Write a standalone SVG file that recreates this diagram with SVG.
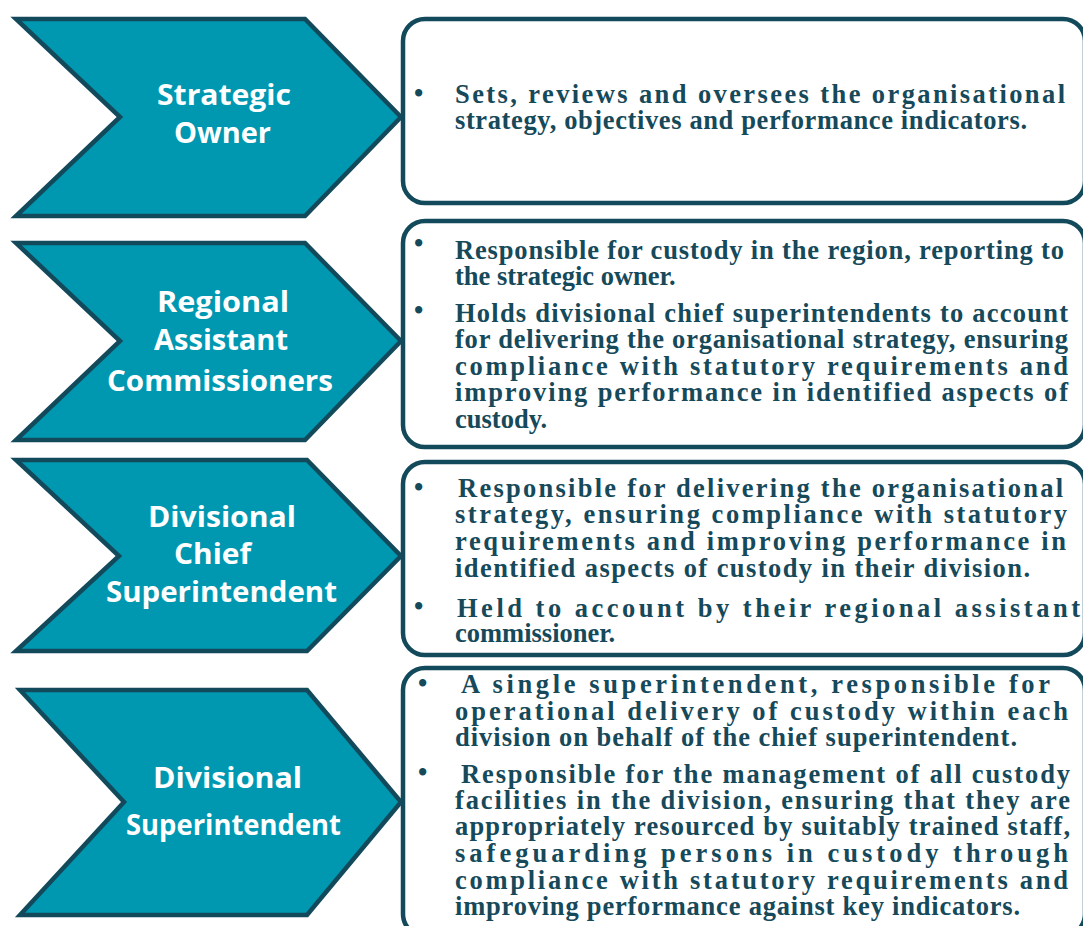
<svg xmlns="http://www.w3.org/2000/svg" width="1083" height="926" viewBox="0 0 1083 926">
  <style>
    .chev { fill: #0098b1; stroke: #134a5b; stroke-width: 4.5; stroke-linejoin: miter; }
    .box { fill: #ffffff; stroke: #134a5b; stroke-width: 4.5; }
    .lbl { font-family: "Open Sans", "Noto Sans", sans-serif; font-weight: 700; font-size: 28px; fill: #ffffff; }
    .txt { font-family: "Liberation Serif", "DejaVu Serif", serif; font-weight: 700; font-size: 26.5px; fill: #16495a; }
  </style>
  <rect width="1083" height="926" fill="#ffffff"/>

  <!-- description panels -->
  <g id="panels">
    <rect class="box" x="403" y="19" width="682" height="184" rx="22" ry="22"/>
    <rect class="box" x="403" y="221" width="682" height="226" rx="22" ry="22"/>
    <rect class="box" x="403" y="462" width="682" height="193" rx="22" ry="22"/>
    <rect class="box" x="403" y="668" width="682" height="268" rx="22" ry="22"/>
  </g>

  <!-- links: each chevron tip meets its panel -->
  <g id="connectors"></g>

  <g id="strategic-owner">
    <polygon class="chev" points="16,19 305,19 401,117 305,216 16,216 120,117"/>
    <text class="lbl" x="157" y="105" textLength="134" lengthAdjust="spacingAndGlyphs">Strategic</text>
    <text class="lbl" x="174" y="143" textLength="97" lengthAdjust="spacingAndGlyphs">Owner</text>
  </g>
  <g id="strategic-owner-desc">
    <text class="txt" x="414" y="102">•</text>
    <text class="txt" x="455" y="103" textLength="610" lengthAdjust="spacing">Sets, reviews and oversees the organisational</text>
    <text class="txt" x="455" y="129" textLength="572" lengthAdjust="spacing">strategy, objectives and performance indicators.</text>
  </g>

  <g id="regional-assistant-commissioners">
    <polygon class="chev" points="16,243 305,243 401,341 305,440 16,440 120,341"/>
    <text class="lbl" x="157" y="312" textLength="132" lengthAdjust="spacingAndGlyphs">Regional</text>
    <text class="lbl" x="154" y="350" textLength="134" lengthAdjust="spacingAndGlyphs">Assistant</text>
    <text class="lbl" x="107" y="391" textLength="226" lengthAdjust="spacingAndGlyphs">Commissioners</text>
  </g>
  <g id="regional-assistant-commissioners-desc">
    <text class="txt" x="414" y="252">•</text>
    <text class="txt" x="455" y="259" textLength="609" lengthAdjust="spacing">Responsible for custody in the region, reporting to</text>
    <text class="txt" x="455" y="285">the strategic owner.</text>
    <text class="txt" x="414" y="319">•</text>
    <text class="txt" x="455" y="322" textLength="613" lengthAdjust="spacing">Holds divisional chief superintendents to account</text>
    <text class="txt" x="455" y="348" textLength="613" lengthAdjust="spacing">for delivering the organisational strategy, ensuring</text>
    <text class="txt" x="455" y="375" textLength="613" lengthAdjust="spacing">compliance with statutory requirements and</text>
    <text class="txt" x="455" y="401" textLength="613" lengthAdjust="spacing">improving performance in identified aspects of</text>
    <text class="txt" x="455" y="428">custody.</text>
  </g>

  <g id="divisional-chief-superintendent">
    <polygon class="chev" points="16,460 307,460 401,556 307,651 16,651 119,556"/>
    <text class="lbl" x="148" y="527" textLength="148" lengthAdjust="spacingAndGlyphs">Divisional</text>
    <text class="lbl" x="174" y="564" textLength="77" lengthAdjust="spacingAndGlyphs">Chief</text>
    <text class="lbl" x="106" y="602" textLength="231" lengthAdjust="spacingAndGlyphs">Superintendent</text>
  </g>
  <g id="divisional-chief-superintendent-desc">
    <text class="txt" x="414" y="496">•</text>
    <text class="txt" x="458" y="497" textLength="605" lengthAdjust="spacing">Responsible for delivering the organisational</text>
    <text class="txt" x="455" y="523" textLength="612" lengthAdjust="spacing">strategy, ensuring compliance with statutory</text>
    <text class="txt" x="455" y="550" textLength="611" lengthAdjust="spacing">requirements and improving performance in</text>
    <text class="txt" x="455" y="577" textLength="575" lengthAdjust="spacing">identified aspects of custody in their division.</text>
    <text class="txt" x="414" y="615">•</text>
    <text class="txt" x="457" y="617" textLength="623" lengthAdjust="spacing">Held to account by their regional assistant</text>
    <text class="txt" x="455" y="642">commissioner.</text>
  </g>

  <g id="divisional-superintendent">
    <polygon class="chev" points="20,690 307,690 401,802 307,915 20,915 124,802"/>
    <text class="lbl" x="153" y="788" textLength="149" lengthAdjust="spacingAndGlyphs">Divisional</text>
    <text class="lbl" x="126" y="835" textLength="215" lengthAdjust="spacingAndGlyphs">Superintendent</text>
  </g>
  <g id="divisional-superintendent-desc">
    <text class="txt" x="418" y="692">•</text>
    <text class="txt" x="461" y="693" textLength="589" lengthAdjust="spacing">A single superintendent, responsible for</text>
    <text class="txt" x="455" y="720" textLength="613" lengthAdjust="spacing">operational delivery of custody within each</text>
    <text class="txt" x="455" y="746" textLength="562" lengthAdjust="spacing">division on behalf of the chief superintendent.</text>
    <text class="txt" x="418" y="781">•</text>
    <text class="txt" x="461" y="783" textLength="609" lengthAdjust="spacing">Responsible for the management of all custody</text>
    <text class="txt" x="455" y="809" textLength="615" lengthAdjust="spacing">facilities in the division, ensuring that they are</text>
    <text class="txt" x="455" y="835" textLength="615" lengthAdjust="spacing">appropriately resourced by suitably trained staff,</text>
    <text class="txt" x="455" y="862" textLength="613" lengthAdjust="spacing">safeguarding persons in custody through</text>
    <text class="txt" x="455" y="889" textLength="613" lengthAdjust="spacing">compliance with statutory requirements and</text>
    <text class="txt" x="455" y="915" textLength="565" lengthAdjust="spacing">improving performance against key indicators.</text>
  </g>
</svg>
